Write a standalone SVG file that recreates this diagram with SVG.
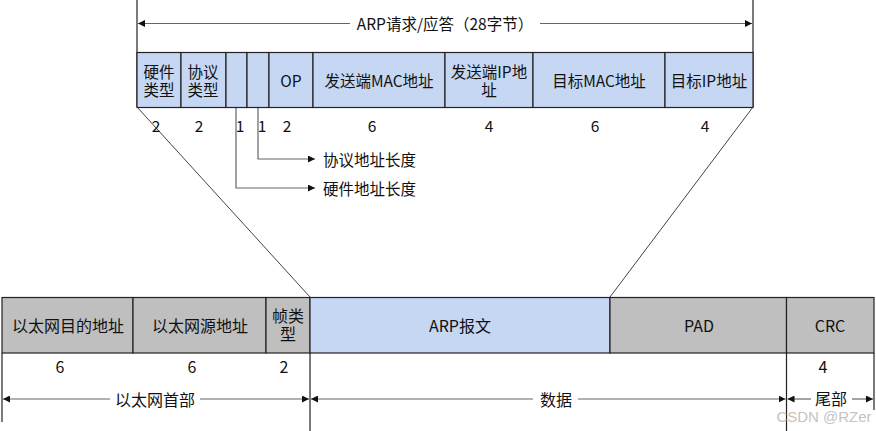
<svg xmlns="http://www.w3.org/2000/svg" width="876" height="431" viewBox="0 0 876 431">
<style>
text{font-family:"Noto Sans CJK SC","Liberation Sans",sans-serif;fill:#111;text-anchor:middle;dominant-baseline:central}
.t{font-size:15.5px}
.b{font-size:16px}
.blue{fill:#c6d7f4;stroke:#222;stroke-width:1.2}
.gray{fill:#bfbfbf;stroke:#222;stroke-width:1.2}
.ln{stroke:#222;stroke-width:1.2;fill:none}
.gl{stroke:#666;stroke-width:1.2;fill:none}
.dg{stroke:#444;stroke-width:1;fill:none}
</style>
<defs>
<marker id="ah" viewBox="0 0 10 10" refX="10" refY="5" markerWidth="7" markerHeight="7" markerUnits="userSpaceOnUse" orient="auto-start-reverse">
<path d="M0,0 L10,5 L0,10 z" fill="#111"/>
</marker>
</defs>
<g id="connectors">
<line class="ln" x1="137" y1="0" x2="137" y2="107"/>
<line class="ln" x1="753" y1="0" x2="753" y2="107"/>
<line class="gl" x1="138" y1="23.5" x2="350" y2="23.5" marker-start="url(#ah)"/>
<line class="gl" x1="540" y1="23.5" x2="752" y2="23.5" marker-end="url(#ah)"/>
<line class="dg" x1="137" y1="107" x2="310" y2="297"/>
<line class="dg" x1="753" y1="107" x2="610" y2="297"/>
<polyline class="gl" points="258,107 258,159 315,159" marker-end="url(#ah)"/>
<polyline class="gl" points="236,107 236,188 315,188" marker-end="url(#ah)"/>
<line class="ln" x1="2" y1="353" x2="2" y2="422"/>
<line class="ln" x1="310" y1="353" x2="310" y2="431"/>
<line class="ln" x1="786.5" y1="353" x2="786.5" y2="431"/>
<line class="ln" x1="874" y1="353" x2="874" y2="410"/>
<line class="gl" x1="3" y1="399" x2="110" y2="399" marker-start="url(#ah)"/>
<line class="gl" x1="200" y1="399" x2="309" y2="399" marker-end="url(#ah)"/>
<line class="gl" x1="311" y1="399" x2="533" y2="399" marker-start="url(#ah)"/>
<line class="gl" x1="578" y1="399" x2="785.5" y2="399" marker-end="url(#ah)"/>
<line class="gl" x1="787.5" y1="399" x2="811" y2="399" marker-start="url(#ah)"/>
<line class="gl" x1="852" y1="399" x2="873" y2="399" marker-end="url(#ah)"/>
</g>
<text class="t" x="445" y="23">ARP请求/应答（28字节）</text>
<g id="arp-hwtype"><rect class="blue" x="137" y="52.5" width="44" height="55"/><text class="t" x="159" y="70.5">硬件</text><text class="t" x="159" y="89">类型</text><text class="t" x="156" y="125">2</text></g>
<g id="arp-prototype"><rect class="blue" x="181" y="52.5" width="45" height="55"/><text class="t" x="203" y="70.5">协议</text><text class="t" x="203" y="89">类型</text><text class="t" x="199" y="125">2</text></g>
<g id="arp-hwlen"><rect class="blue" x="226" y="52.5" width="21" height="55"/><text class="t" x="240" y="125">1</text></g>
<g id="arp-protolen"><rect class="blue" x="247" y="52.5" width="22" height="55"/><text class="t" x="262" y="125">1</text></g>
<g id="arp-op"><rect class="blue" x="269" y="52.5" width="44" height="55"/><text class="t" x="291" y="80">OP</text><text class="t" x="287" y="125">2</text></g>
<g id="arp-smac"><rect class="blue" x="313" y="52.5" width="132" height="55"/><text class="t" x="379" y="80">发送端MAC地址</text><text class="t" x="372" y="125">6</text></g>
<g id="arp-sip"><rect class="blue" x="445" y="52.5" width="88" height="55"/><text class="t" x="489" y="70.5">发送端IP地</text><text class="t" x="489" y="89">址</text><text class="t" x="489" y="125">4</text></g>
<g id="arp-tmac"><rect class="blue" x="533" y="52.5" width="132" height="55"/><text class="t" x="599" y="80">目标MAC地址</text><text class="t" x="595" y="125">6</text></g>
<g id="arp-tip"><rect class="blue" x="665" y="52.5" width="88" height="55"/><text class="t" x="709" y="80">目标IP地址</text><text class="t" x="705" y="125">4</text></g>
<g id="label-protolen"><text class="t" x="323" y="159" style="text-anchor:start">协议地址长度</text></g>
<g id="label-hwlen"><text class="t" x="323" y="188" style="text-anchor:start">硬件地址长度</text></g>
<g id="eth-dst"><rect class="gray" x="2" y="297.5" width="131" height="55.5"/><text class="b" x="68" y="325">以太网目的地址</text><text class="b" x="60" y="366">6</text></g>
<g id="eth-src"><rect class="gray" x="133" y="297.5" width="133" height="55.5"/><text class="b" x="200" y="325">以太网源地址</text><text class="b" x="192" y="366">6</text></g>
<g id="eth-type"><rect class="gray" x="266" y="297.5" width="44" height="55.5"/><text class="b" x="288" y="315">帧类</text><text class="b" x="288" y="333">型</text><text class="b" x="284" y="366">2</text></g>
<g id="eth-arp"><rect class="blue" x="310" y="297.5" width="300" height="55.5"/><text class="b" x="460" y="325">ARP报文</text></g>
<g id="eth-pad"><rect class="gray" x="610" y="297.5" width="176.5" height="55.5"/><text class="b" x="699" y="325">PAD</text></g>
<g id="eth-crc"><rect class="gray" x="786.5" y="297.5" width="87.5" height="55.5"/><text class="b" x="830" y="325">CRC</text><text class="b" x="823" y="366">4</text></g>
<text class="b" x="155" y="399">以太网首部</text>
<text class="b" x="556" y="399">数据</text>
<text class="b" x="831" y="398">尾部</text>
<text x="824" y="416" style="font-size:15px;fill:#c4c4c4;font-family:'Liberation Sans',sans-serif">CSDN @RZer</text>
</svg>
